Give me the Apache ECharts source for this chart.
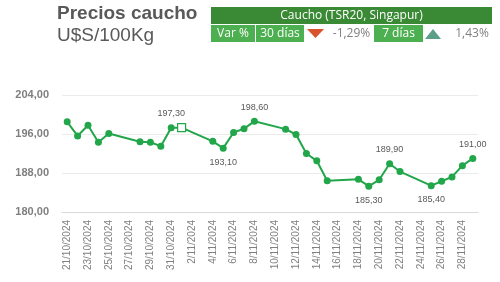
<!DOCTYPE html>
<html>
<head>
<meta charset="utf-8">
<script src="https://cdn.jsdelivr.net/npm/echarts@6/dist/echarts.min.js"></script>
<style>html,body{margin:0;padding:0;background:#fff}#c{width:500px;height:282px}</style>
</head>
<body>
<div id="c"></div>
<script>
// Daily categories 21/10/2024 .. 29/11/2024
var categories = ['21/10/2024','22/10/2024','23/10/2024','24/10/2024','25/10/2024','26/10/2024','27/10/2024','28/10/2024','29/10/2024','30/10/2024','31/10/2024','1/11/2024','2/11/2024','3/11/2024','4/11/2024','5/11/2024','6/11/2024','7/11/2024','8/11/2024','9/11/2024','10/11/2024','11/11/2024','12/11/2024','13/11/2024','14/11/2024','15/11/2024','16/11/2024','17/11/2024','18/11/2024','19/11/2024','20/11/2024','21/11/2024','22/11/2024','23/11/2024','24/11/2024','25/11/2024','26/11/2024','27/11/2024','28/11/2024','29/11/2024'];
var prices = [198.5,195.6,197.8,194.3,196.1,null,null,194.4,194.3,193.5,197.3,197.3,null,null,194.5,193.1,196.3,197.1,198.6,null,null,197.0,195.9,192.0,190.5,186.4,null,null,186.7,185.3,186.6,189.9,188.3,null,null,185.4,186.3,187.2,189.5,191.0];
var labelAbove = ['31/10/2024','8/11/2024','21/11/2024','29/11/2024'];
var labelBelow = ['5/11/2024','19/11/2024','25/11/2024'];
var hollowPoints = ['1/11/2024'];
var yTicks = [180, 188, 196, 204];
var titleText = 'Precios caucho';
var unitText = 'U$S/100Kg';
var headerText = 'Caucho (TSR20, Singapur)';
var varLabels = ['Var %', '30 días', '7 días'];
var varValues = ['-1,29%', '1,43%'];

var GREEN = '#22a64a';
function fmt(v){ return v.toFixed(2).replace('.', ','); }

var seriesData = prices.map(function(v, i){
  var c = categories[i];
  var item = { value: v };
  if (labelAbove.indexOf(c) >= 0) {
    item.label = { show: true, position: 'top', distance: 6, formatter: function(p){ return fmt(p.value); } };
  } else if (labelBelow.indexOf(c) >= 0) {
    item.label = { show: true, position: 'bottom', distance: 6, formatter: function(p){ return fmt(p.value); } };
  }
  if (hollowPoints.indexOf(c) >= 0) {
    item.symbol = 'rect';
    item.symbolSize = 8;
    item.itemStyle = { color: '#ffffff', borderColor: GREEN, borderWidth: 1.2 };
  }
  return item;
});

var chart = echarts.init(document.getElementById('c'), null, {renderer: 'canvas'});
var font = 'Liberation Sans, Arial, sans-serif';
var tfont = 'Open Sans, Liberation Sans, sans-serif';
chart.setOption({
  animation: false,
  grid: { left: 62, right: 22, top: 95, bottom: 70, containLabel: false },
  xAxis: {
    type: 'category',
    data: categories,
    boundaryGap: true,
    axisLine: { show: true, lineStyle: { color: '#d9d9d9', width: 1 } },
    axisTick: { show: false },
    axisLabel: { interval: 1, rotate: 90, color: '#808080', fontSize: 10, fontFamily: font, margin: 8 }
  },
  yAxis: {
    type: 'value',
    min: yTicks[0], max: yTicks[yTicks.length - 1], interval: yTicks[1] - yTicks[0],
    axisLine: { show: false }, axisTick: { show: false },
    splitLine: { lineStyle: { color: '#ebebeb', width: 1 } },
    axisLabel: { color: '#7f7f7f', fontSize: 11, fontWeight: 'bold', fontFamily: font, margin: 13, formatter: function(v){ return fmt(v); } }
  },
  series: [{
    type: 'line',
    data: seriesData,
    connectNulls: true,
    showAllSymbol: true,
    symbol: 'circle',
    symbolSize: 7,
    lineStyle: { color: GREEN, width: 2 },
    itemStyle: { color: GREEN },
    labelLayout: { hideOverlap: false },
    label: { color: '#595959', fontSize: 9, fontFamily: font }
  }],
  graphic: [
    { type: 'text', left: 57, top: 4, style: { text: titleText, font: 'bold 19px ' + font, fill: '#595959' } },
    { type: 'text', left: 57, top: 26, style: { text: unitText, font: '19px ' + font, fill: '#595959' } },
    { type: 'rect', shape: { x: 211, y: 7, width: 281, height: 17 }, style: { fill: '#3a8a35' } },
    { type: 'text', x: 351.5, y: 15.5, style: { text: headerText, font: '12px ' + tfont, fill: '#ffffff', align: 'center', verticalAlign: 'middle' } },
    { type: 'rect', shape: { x: 211, y: 25, width: 44, height: 17 }, style: { fill: '#4caf50' } },
    { type: 'text', x: 233, y: 33.5, style: { text: varLabels[0], font: '12px ' + tfont, fill: '#ffffff', align: 'center', verticalAlign: 'middle' } },
    { type: 'rect', shape: { x: 256, y: 25, width: 48, height: 17 }, style: { fill: '#4caf50' } },
    { type: 'text', x: 280, y: 33.5, style: { text: varLabels[1], font: '12px ' + tfont, fill: '#ffffff', align: 'center', verticalAlign: 'middle' } },
    { type: 'polygon', shape: { points: [[307, 29], [324, 29], [315.5, 38]] }, style: { fill: '#d9532c' } },
    { type: 'text', x: 351.5, y: 33.5, style: { text: varValues[0], font: '12px ' + tfont, fill: '#7f7f7f', align: 'center', verticalAlign: 'middle' } },
    { type: 'rect', shape: { x: 374, y: 25, width: 49, height: 17 }, style: { fill: '#4caf50' } },
    { type: 'text', x: 398.5, y: 33.5, style: { text: varLabels[2], font: '12px ' + tfont, fill: '#ffffff', align: 'center', verticalAlign: 'middle' } },
    { type: 'polygon', shape: { points: [[425, 39], [441, 39], [433, 29]] }, style: { fill: '#5b9f86' } },
    { type: 'text', x: 472, y: 33.5, style: { text: varValues[1], font: '12px ' + tfont, fill: '#7f7f7f', align: 'center', verticalAlign: 'middle' } }
  ]
});
</script>
</body>
</html>
